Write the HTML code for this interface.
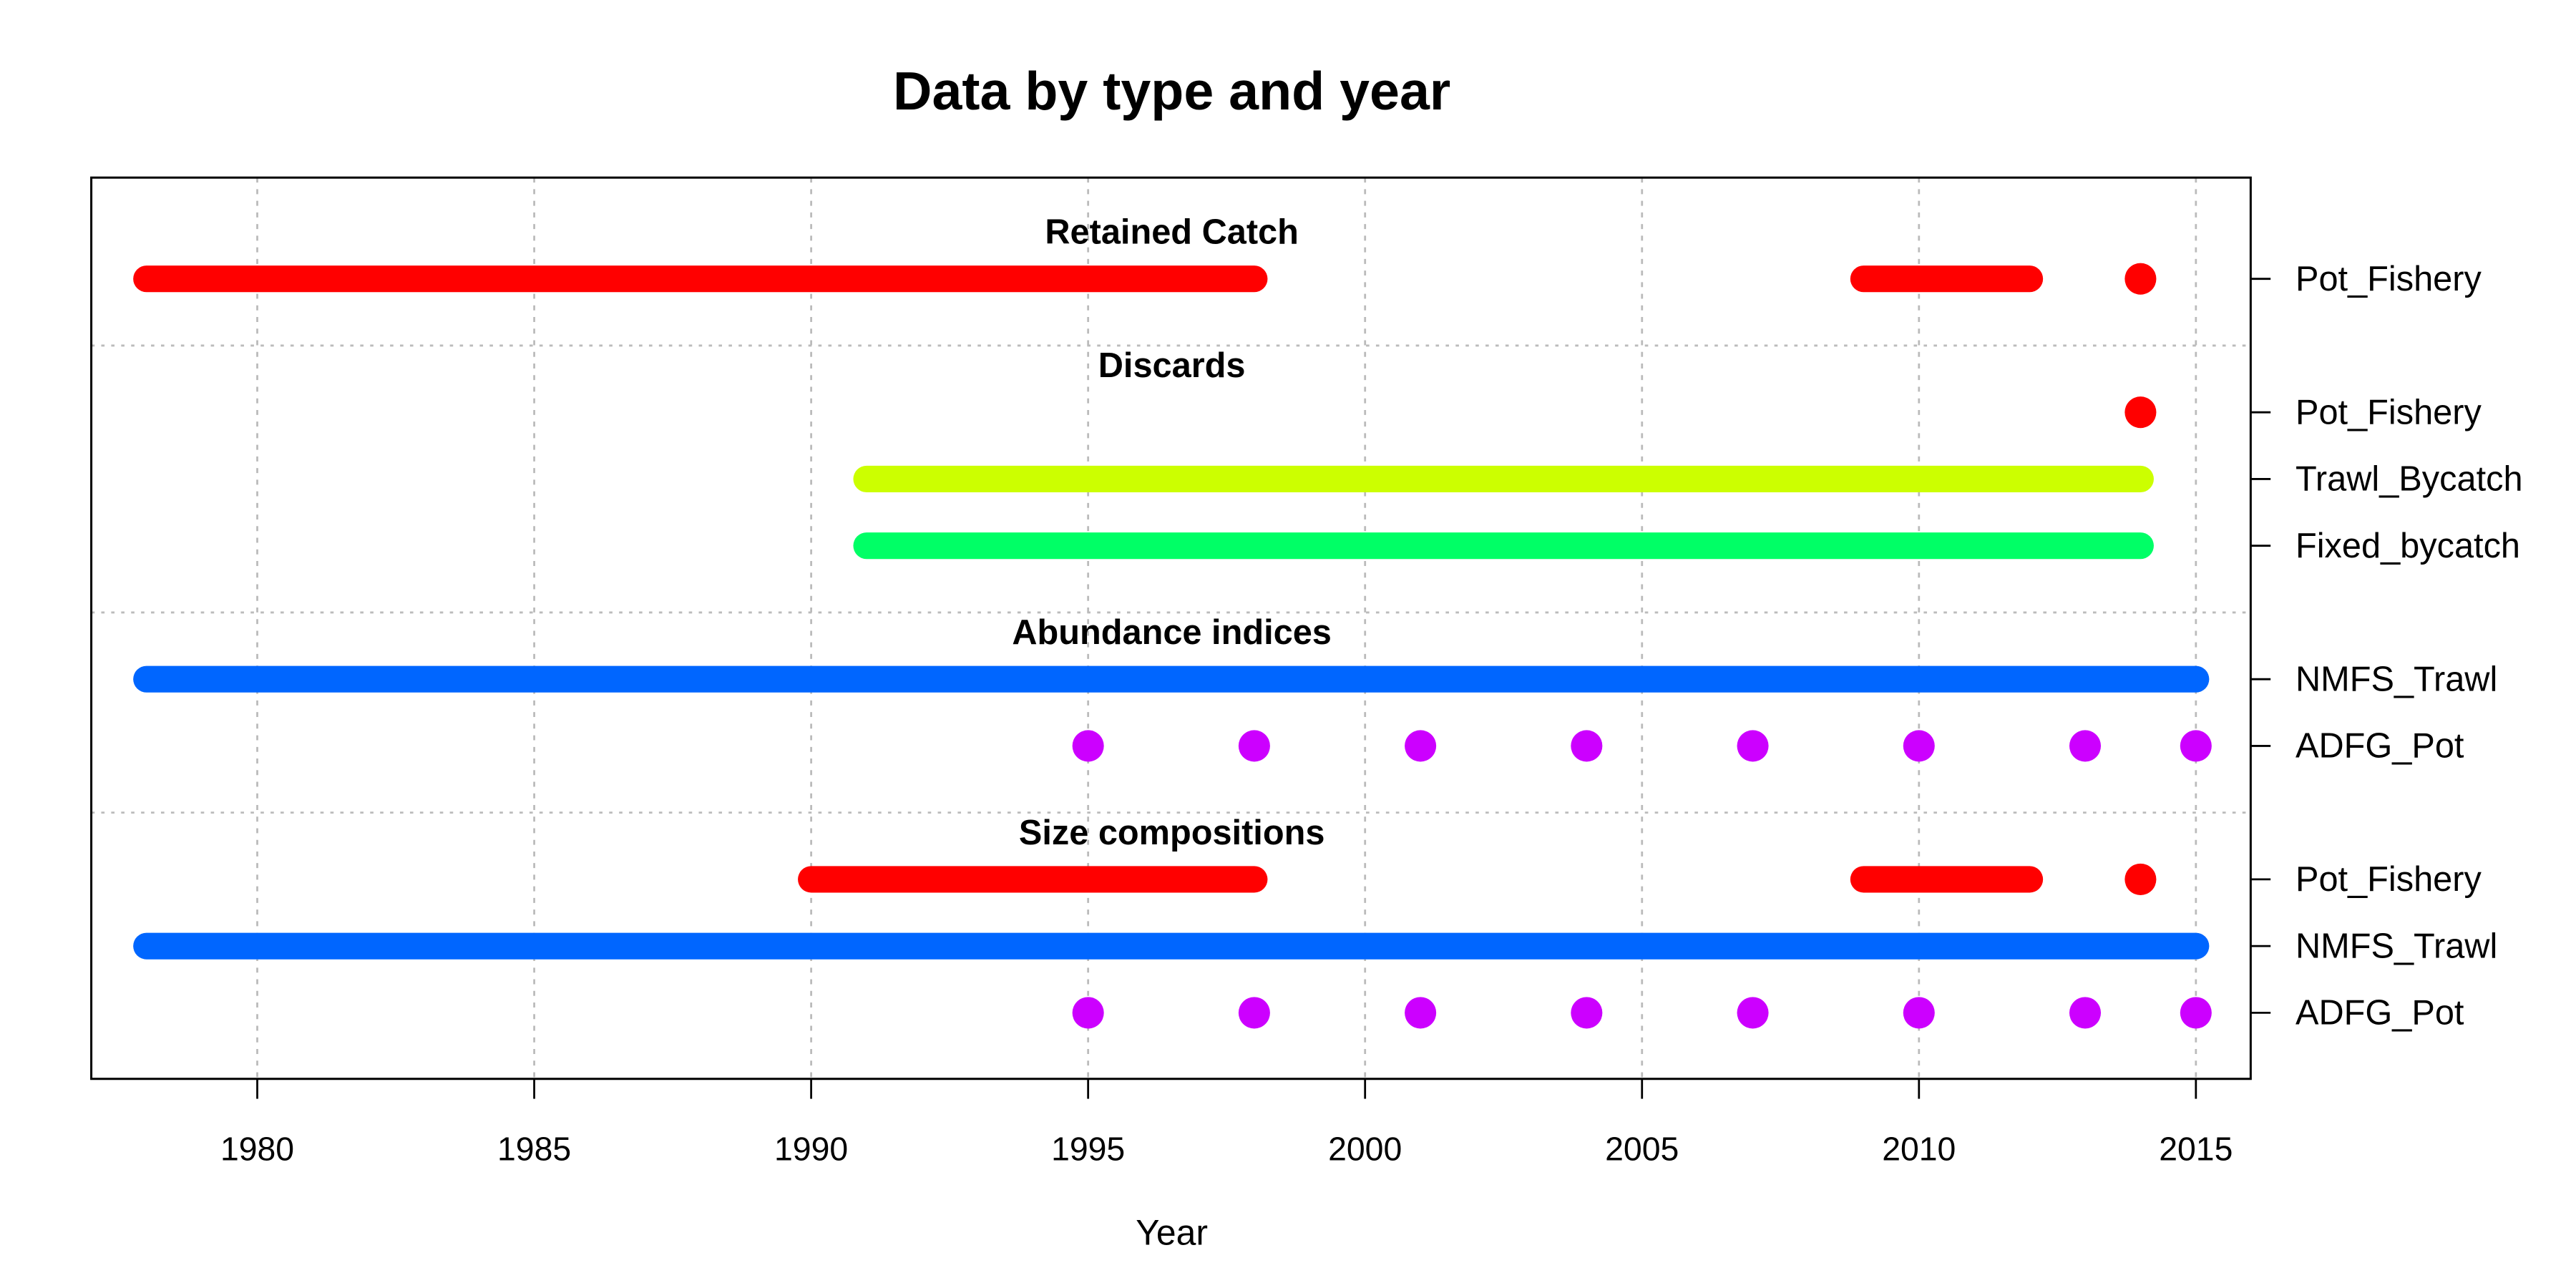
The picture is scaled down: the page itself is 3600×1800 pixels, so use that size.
<!DOCTYPE html>
<html><head><meta charset="utf-8"><style>html,body{margin:0;padding:0;background:#fff}svg{display:block}</style></head>
<body>
<svg id="chart" width="3600" height="1800" viewBox="0 0 1552 776" xmlns="http://www.w3.org/2000/svg" font-family="Liberation Sans, Arial, sans-serif">
<rect width="1552" height="776" fill="#fff"/>
<text x="706" y="66" font-size="32.5" font-weight="bold" text-anchor="middle">Data by type and year</text>
<g id="grid"></g>
<g id="marks"></g>
<rect x="55" y="107" width="1301" height="543" fill="none" stroke="#000" stroke-width="1.3"/>
<g id="axes"></g>
<text x="706" y="750" font-size="21.5" text-anchor="middle">Year</text>
</svg>
<script>
const xTicks = [1980, 1985, 1990, 1995, 2000, 2005, 2010, 2015];
const sectionNames = ["Retained Catch", "Discards", "Abundance indices", "Size compositions"];
const sectionSlots = [-0.7, 1.3, 5.3, 8.3];
const separatorSlots = [1, 5, 8];
const rowLabels = ["Pot_Fishery", "Pot_Fishery", "Trawl_Bycatch", "Fixed_bycatch", "NMFS_Trawl", "ADFG_Pot", "Pot_Fishery", "NMFS_Trawl", "ADFG_Pot"];
const rowSlots = [0, 2, 3, 4, 6, 7, 9, 10, 11];
const rowColors = ["#FF0000", "#FF0000", "#CCFF00", "#00FF66", "#0066FF", "#CC00FF", "#FF0000", "#0066FF", "#CC00FF"];
const rowYears = [
  [1978,1979,1980,1981,1982,1983,1984,1985,1986,1987,1988,1989,1990,1991,1992,1993,1994,1995,1996,1997,1998,2009,2010,2011,2012,2014],
  [2014],
  [1991,1992,1993,1994,1995,1996,1997,1998,1999,2000,2001,2002,2003,2004,2005,2006,2007,2008,2009,2010,2011,2012,2013,2014],
  [1991,1992,1993,1994,1995,1996,1997,1998,1999,2000,2001,2002,2003,2004,2005,2006,2007,2008,2009,2010,2011,2012,2013,2014],
  [1978,1979,1980,1981,1982,1983,1984,1985,1986,1987,1988,1989,1990,1991,1992,1993,1994,1995,1996,1997,1998,1999,2000,2001,2002,2003,2004,2005,2006,2007,2008,2009,2010,2011,2012,2013,2014,2015],
  [1995,1998,2001,2004,2007,2010,2013,2015],
  [1990,1991,1992,1993,1994,1995,1996,1997,1998,2009,2010,2011,2012,2014],
  [1978,1979,1980,1981,1982,1983,1984,1985,1986,1987,1988,1989,1990,1991,1992,1993,1994,1995,1996,1997,1998,1999,2000,2001,2002,2003,2004,2005,2006,2007,2008,2009,2010,2011,2012,2013,2014,2015],
  [1995,1998,2001,2004,2007,2010,2013,2015]
];
const NS = "http://www.w3.org/2000/svg";
const X = y => 155 + (y - 1980) * (1323 - 155) / 35;
const Y = s => 168 + s * 40.2;
const L = 55, R = 1356, T = 107, B = 650;
function mk(tag, attrs, parent) { const e = document.createElementNS(NS, tag); for (const k in attrs) e.setAttribute(k, attrs[k]); parent.appendChild(e); return e; }
const grid = document.getElementById("grid"), marks = document.getElementById("marks"), axes = document.getElementById("axes");
xTicks.forEach(t => {
  const g = mk("line", {x1: X(t), x2: X(t), y1: T, y2: B, stroke: "#bbb", "stroke-width": 1.2, "stroke-dasharray": "3 4"}, grid);
  
  
  const tk = mk("line", {x1: X(t), x2: X(t), y1: B, y2: B + 12, stroke: "#000", "stroke-width": 1.2}, axes);
  
  
  const tl = mk("text", {x: X(t), y: 699, "font-size": 20, "text-anchor": "middle"}, axes);
  tl.textContent = t;
  
  
});
separatorSlots.forEach(s => {
  const g = mk("line", {x1: L, x2: R, y1: Y(s), y2: Y(s), stroke: "#bbb", "stroke-width": 1.2, "stroke-dasharray": "2 4"}, grid);
  
  
});
sectionNames.forEach((n, i) => {
  const t = mk("text", {x: 706, y: Y(sectionSlots[i]) + 7, "font-size": 21, "font-weight": "bold", "text-anchor": "middle"}, marks);
  t.textContent = n;
  
  
});
rowYears.forEach((yrs, i) => {
  const y = Y(rowSlots[i]), c = rowColors[i];
  let runs = [], start = yrs[0], prev = yrs[0];
  for (let k = 1; k <= yrs.length; k++) {
    if (k < yrs.length && yrs[k] === prev + 1) { prev = yrs[k]; continue; }
    runs.push([start, prev]);
    if (k < yrs.length) { start = yrs[k]; prev = yrs[k]; }
  }
  runs.forEach(r => {
    if (r[0] === r[1]) {
      const d = mk("circle", {cx: X(r[0]), cy: y, r: 9.5, fill: c}, marks);
      
      
    } else {
      const ln = mk("line", {x1: X(r[0]), x2: X(r[1]), y1: y, y2: y, stroke: c, "stroke-width": 16, "stroke-linecap": "round"}, marks);
      
      
    }
  });
  const tk = mk("line", {x1: R, x2: R + 12, y1: y, y2: y, stroke: "#000", "stroke-width": 1.2}, axes);
  
  
  const lb = mk("text", {x: 1383, y: y + 7, "font-size": 21}, axes);
  lb.textContent = rowLabels[i];
  
  
});
</script>
</body></html>
